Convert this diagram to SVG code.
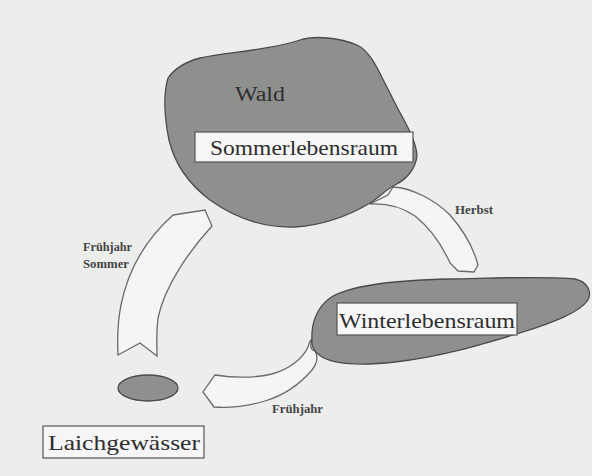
<svg xmlns="http://www.w3.org/2000/svg" width="592" height="476" viewBox="0 0 592 476">
<style>
.blob{fill:#8e908e;stroke:#4a4a4a;stroke-width:1.3}
.arrow{fill:#f4f5f4;stroke:#6a6a6a;stroke-width:1.3}
.box{fill:#f6f6f6;stroke:#555;stroke-width:1.2}
.big{font-family:"Liberation Serif","DejaVu Serif",serif;font-size:21px;fill:#2e2e2e}
.small{font-family:"Liberation Serif","DejaVu Serif",serif;font-size:12px;font-weight:bold;fill:#444}
</style>
<rect width="592" height="476" fill="#eceeec"/>
<g id="connectors">
<path class="arrow" d="M173,215 L205,210 L212,226 C190,250 165,285 158,318 C156,335 157,345 157,356 L140,343 L118,355 C117,335 118,320 121,305 C128,270 145,240 173,215 Z"/>
<path class="arrow" d="M370,204 L388,195 L393,187 C412,188 435,200 450,215 C465,232 474,250 478,265 L474,272 L458,271 L450,263 C442,245 430,228 415,216 C402,207 388,203 370,204 Z"/>
<path class="arrow" d="M312,339 C310,345 310,350 315,351 C318,356 318,362 312,370 C300,384 285,395 265,401 C245,407 228,408 214,407 L203,392 L215,375 C235,378 255,378 272,374 C290,369 303,358 308,347 C309,343 310,340 312,339 Z"/>
</g>
<g id="wald">
<path class="blob" d="M168,78 C175,68 185,62 200,58 C230,52 270,50 300,40 C315,35 340,38 357,45 C372,52 380,75 390,93 C400,115 415,135 417,155 C416,170 405,180 395,185 C385,190 380,197 370,203 C350,215 325,225 295,227 C265,228 235,218 210,200 C190,185 175,165 169,140 C165,120 163,95 168,78 Z"/>
<text class="big" x="235" y="101" style="font-size:20px" textLength="50" lengthAdjust="spacingAndGlyphs">Wald</text>
</g>
<g id="sommerlebensraum">
<rect class="box" x="195" y="132" width="218" height="30"/>
<text class="big" x="210" y="155" textLength="188" lengthAdjust="spacingAndGlyphs">Sommerlebensraum</text>
</g>
<g id="winterlebensraum">
<path class="blob" d="M312,340 C311,325 316,308 330,298 C350,285 400,280 450,279 C500,278 545,276 575,279 C588,282 592,292 588,300 C580,312 555,322 520,333 C480,345 440,357 395,362 C360,366 335,364 322,357 C314,352 311,346 312,340 Z"/>
<rect class="box" x="337" y="303" width="180" height="32"/>
<text class="big" x="339" y="328" style="font-size:22px" textLength="176" lengthAdjust="spacingAndGlyphs">Winterlebensraum</text>
</g>
<g id="laichgewaesser">
<ellipse cx="148" cy="388" rx="30" ry="13" class="blob"/>
<rect class="box" x="43" y="426" width="161" height="32"/>
<text class="big" x="48" y="450" textLength="152" lengthAdjust="spacingAndGlyphs">Laichgewässer</text>
</g>
<g id="labels">
<text class="small" x="83" y="251" textLength="49" lengthAdjust="spacingAndGlyphs">Frühjahr</text>
<text class="small" x="83" y="268" textLength="46" lengthAdjust="spacingAndGlyphs">Sommer</text>
<text class="small" x="455" y="214" textLength="38" lengthAdjust="spacingAndGlyphs">Herbst</text>
<text class="small" x="272" y="413" textLength="51" lengthAdjust="spacingAndGlyphs">Frühjahr</text>
</g>
</svg>
